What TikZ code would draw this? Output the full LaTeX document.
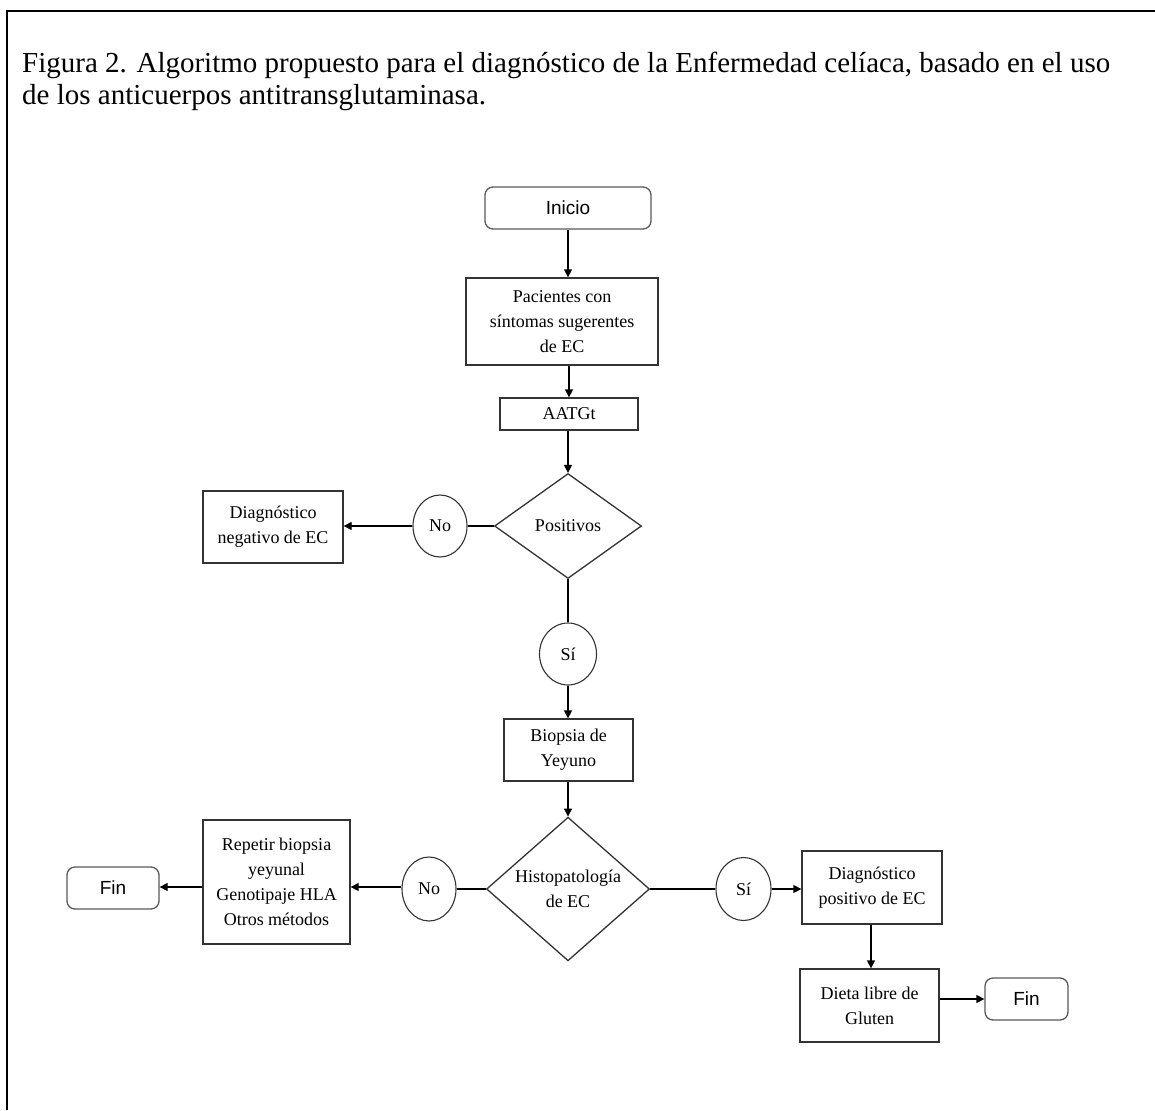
\documentclass[tikz,border=0pt]{standalone}
\usepackage{fontspec}
\setmainfont{Liberation Serif}
\newfontfamily\arialf{Liberation Sans}
\usetikzlibrary{arrows.meta,shapes.geometric}
\begin{document}
\begin{tikzpicture}[x=1pt,y=-1pt,
  boxst/.style={draw=black!80,line width=1.3pt,inner sep=0pt,align=center,
    font=\fontsize{18}{25}\selectfont},
  termst/.style={draw=black!65,line width=1.3pt,rounded corners=8pt,inner sep=0pt,
    font=\arialf\fontsize{19}{22}\selectfont},
  decst/.style={draw=black!80,line width=1.3pt,diamond,inner sep=0pt,aspect=1,align=center,
    font=\fontsize{18}{25}\selectfont},
  ansst/.style={draw=black!80,line width=1.1pt,ellipse,inner sep=0pt,
    font=\fontsize{18}{20}\selectfont},
  arr/.style={line width=1.3pt,-{Triangle[length=8pt,width=8pt]}},
  ln/.style={line width=1.3pt}]
\useasboundingbox (0,0) rectangle (1155,1110);
\fill[white] (0,0) rectangle (1155,1110);
\draw[line width=2.2pt] (7,1110) -- (7,11) -- (1155,11);
\node[anchor=base west,align=left,inner sep=0pt,font=\fontsize{29}{32}\selectfont] (title) at (22,105)
  {Figura 2. Algoritmo propuesto para el diagnóstico de la Enfermedad celíaca, basado en el uso\\
   de los anticuerpos antitransglutaminasa.};

\node[termst,minimum width=166pt,minimum height=42pt] (inicio) at (568,208) {Inicio};
\node[boxst,minimum width=192pt,minimum height=87pt] (pac) at (562,321.5)
  {Pacientes con\\síntomas sugerentes\\de EC};
\node[boxst,minimum width=138pt,minimum height=32pt] (aatg) at (569,414) {AATGt};
\node[decst,minimum width=147pt,minimum height=105pt] (pos) at (568,526) {Positivos};
\node[ansst,minimum width=54pt,minimum height=62pt] (no1) at (440,526) {No};
\node[boxst,minimum width=140pt,minimum height=72pt] (dneg) at (273,527)
  {Diagnóstico\\negativo de EC};
\node[ansst,minimum width=57pt,minimum height=62pt] (si1) at (568,654) {Sí};
\node[boxst,minimum width=129pt,minimum height=62pt] (biop) at (568.5,750)
  {Biopsia de\\Yeyuno};
\node[decst,minimum width=163pt,minimum height=138pt] (histo) at (568,889)
  {Histopatología\\de EC};
\node[ansst,minimum width=54pt,minimum height=64pt] (no2) at (429,889) {No};
\node[boxst,minimum width=147pt,minimum height=124pt] (rep) at (276.5,882)
  {Repetir biopsia\\yeyunal\\Genotipaje HLA\\Otros métodos};
\node[termst,minimum width=92pt,minimum height=42pt] (fin1) at (113,888) {Fin};
\node[ansst,minimum width=55pt,minimum height=63pt] (si2) at (743.5,889) {Sí};
\node[boxst,minimum width=140pt,minimum height=73pt] (dpos) at (872,887.5)
  {Diagnóstico\\positivo de EC};
\node[boxst,minimum width=139pt,minimum height=73pt] (dieta) at (869.5,1005.5)
  {Dieta libre de\\Gluten};
\node[termst,minimum width=83pt,minimum height=42pt] (fin2) at (1026.5,999) {Fin};

\draw[arr] (inicio.south) -- (inicio.south |- pac.north);
\draw[arr] (pac.south -| aatg) -- (aatg.north);
\draw[arr] (aatg.south -| pos) -- (pos.north);
\draw[ln] (pos.west) -- (no1.east);
\draw[arr] (no1.west) -- (no1.west -| dneg.east);
\draw[ln] (pos.south) -- (si1.north);
\draw[arr] (si1.south) -- (si1.south |- biop.north);
\draw[arr] (biop.south -| histo) -- (histo.north);
\draw[ln] (histo.west) -- (no2.east);
\draw[arr] (no2.west |- 0,887) -- (rep.east |- 0,887);
\draw[arr] (rep.west |- 0,887) -- (fin1.east |- 0,887);
\draw[ln] (histo.east) -- (si2.west);
\draw[arr] (si2.east) -- (si2.east -| dpos.west);
\draw[arr] (dpos.south -| 871,0) -- (dieta.north -| 871,0);
\draw[arr] (dieta.east |- fin2.west) -- (fin2.west);
\end{tikzpicture}
\end{document}
